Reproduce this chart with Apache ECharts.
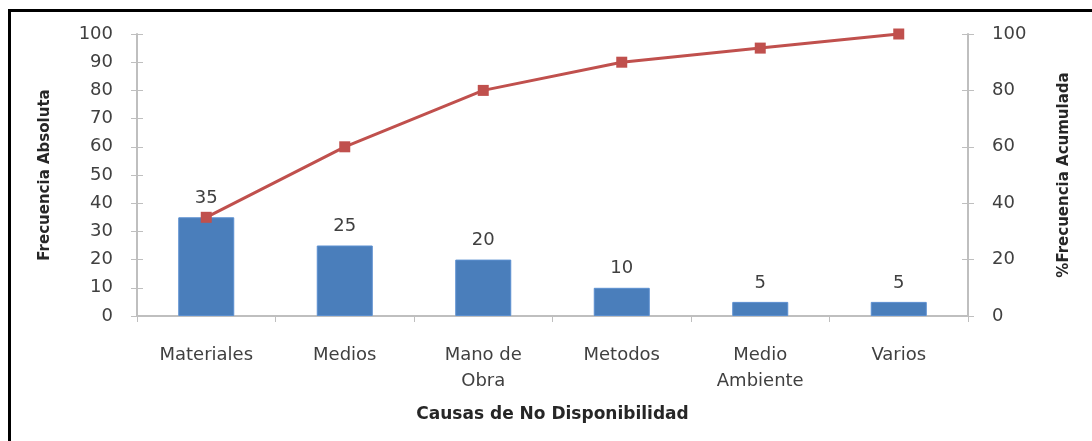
<!DOCTYPE html>
<html>
<head>
<meta charset="utf-8">
<script src="https://cdn.jsdelivr.net/npm/echarts@6/dist/echarts.min.js"></script>
<style>
  html, body { margin: 0; padding: 0; background: #fff; }
  #chart { width: 1092px; height: 441px; }
</style>
</head>
<body>
<div id="chart"></div>
<script>
// Pareto: absolute frequency per cause with cumulative percentage
const categories = ['Materiales', 'Medios', 'Mano de\nObra', 'Metodos', 'Medio\nAmbiente', 'Varios'];
const frecuencia = [35, 25, 20, 10, 5, 5];
const acumulado = [35, 60, 80, 90, 95, 100];
const leftTicks = [0, 100, 10];   // min, max, interval
const rightTicks = [0, 100, 20];

const FONT = 'DejaVu Sans';
const TXT = '#404040';
const AXIS = '#bfbfbf';

const chart = echarts.init(document.getElementById('chart'));

const baseY = {
  type: 'value',
  splitLine: { show: false },
  axisLine: { show: true, lineStyle: { color: AXIS, width: 2 } }
};

chart.setOption({
  animation: false,
  textStyle: { fontFamily: FONT },
  grid: { left: 137, right: 124, top: 34, bottom: 125 },
  graphic: [{
    type: 'rect',
    shape: { x: 9.5, y: 10.5, width: 1100, height: 460 },
    style: { fill: 'none', stroke: '#000', lineWidth: 3 },
    silent: true
  }],
  xAxis: {
    type: 'category',
    data: categories,
    axisLine: { lineStyle: { color: AXIS, width: 2 } },
    axisTick: { show: true, inside: false, length: 6, alignWithLabel: false, lineStyle: { color: AXIS } },
    axisLabel: { color: TXT, fontSize: 18, margin: 26, lineHeight: 26, fontFamily: FONT },
    name: 'Causas de No Disponibilidad',
    nameLocation: 'middle',
    nameGap: 90,
    nameTextStyle: { color: '#262626', fontSize: 17, fontWeight: 'bold', fontFamily: FONT }
  },
  yAxis: [
    Object.assign({}, baseY, {
      min: leftTicks[0], max: leftTicks[1], interval: leftTicks[2],
      position: 'left',
      axisTick: { show: true, length: 6, lineStyle: { color: AXIS } },
      axisLabel: { color: TXT, fontSize: 18, margin: 24, fontFamily: FONT },
      name: 'Frecuencia Absoluta',
      nameLocation: 'middle',
      nameGap: 84,
      nameRotate: 90,
      nameTextStyle: { color: '#262626', fontSize: 15, fontWeight: 'bold', fontFamily: FONT }
    }),
    Object.assign({}, baseY, {
      min: rightTicks[0], max: rightTicks[1], interval: rightTicks[2],
      position: 'right',
      axisTick: { show: true, length: 6, lineStyle: { color: AXIS } },
      axisLabel: { color: TXT, fontSize: 18, margin: 24, fontFamily: FONT },
      name: '%Frecuencia Acumulada',
      nameLocation: 'middle',
      nameGap: 89,
      nameRotate: 90,
      nameTextStyle: { color: '#262626', fontSize: 15, fontWeight: 'bold', fontFamily: FONT }
    }),
    // inner half of the cross tick marks on both value axes
    Object.assign({}, baseY, {
      min: leftTicks[0], max: leftTicks[1], interval: leftTicks[2],
      position: 'left',
      axisLine: { show: false },
      axisTick: { show: true, inside: true, length: 6, lineStyle: { color: AXIS } },
      axisLabel: { show: false }
    }),
    Object.assign({}, baseY, {
      min: rightTicks[0], max: rightTicks[1], interval: rightTicks[2],
      position: 'right',
      axisLine: { show: false },
      axisTick: { show: true, inside: true, length: 6, lineStyle: { color: AXIS } },
      axisLabel: { show: false }
    })
  ],
  series: [
    {
      type: 'bar',
      data: frecuencia,
      yAxisIndex: 0,
      barWidth: 56,
      itemStyle: { color: '#4a7ebb', borderColor: '#5b8fd0', borderWidth: 1 },
      label: {
        show: true, position: 'top', distance: 10,
        color: TXT, fontSize: 18, fontFamily: FONT
      }
    },
    {
      type: 'line',
      data: acumulado,
      yAxisIndex: 1,
      symbol: 'rect',
      symbolSize: 11,
      lineStyle: { color: '#c0504d', width: 3 },
      itemStyle: { color: '#c0504d' }
    }
  ]
});
</script>
</body>
</html>
